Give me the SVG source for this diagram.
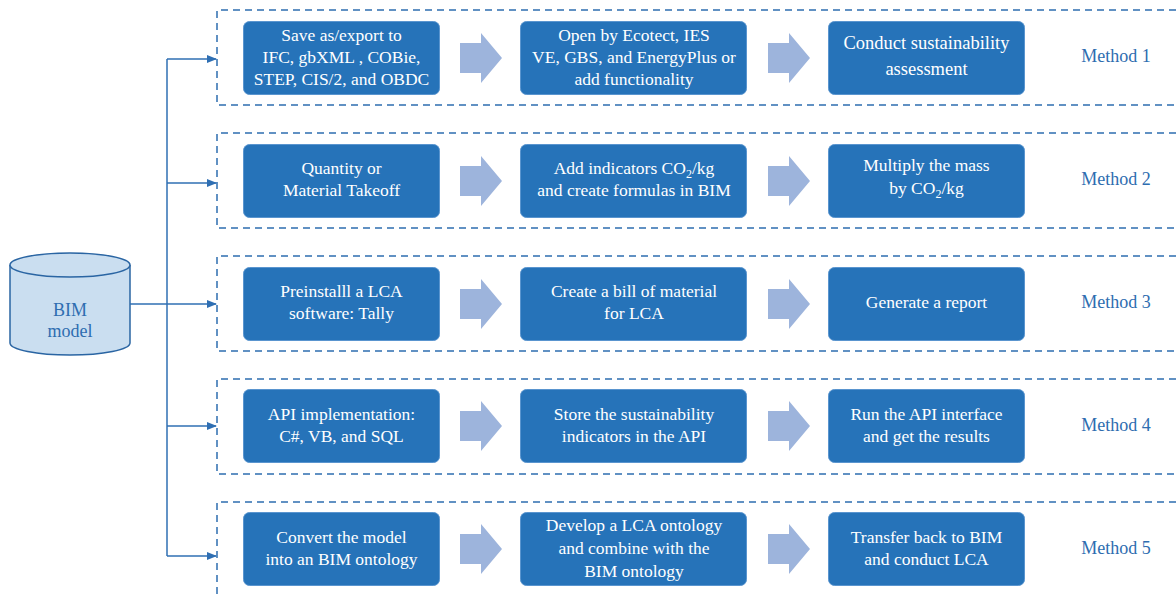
<svg xmlns="http://www.w3.org/2000/svg" width="1176" height="596" viewBox="0 0 1176 596">
<style>
.frame{fill:none;stroke:#2e6db0;stroke-width:1.5;stroke-dasharray:7 5}
.box{fill:#2673b9;stroke:#5a95cf;stroke-width:1}
.bt{font-family:"Liberation Serif",serif;font-size:17.5px;fill:#ffffff;text-anchor:middle}
.big{font-size:18.5px}
.ml{font-family:"Liberation Serif",serif;font-size:18px;fill:#2e6db0;text-anchor:middle}
.blk{fill:#9db4dc}
.con{fill:none;stroke:#2f6fb3;stroke-width:1.5}
.sub{font-size:12px}
</style>
<defs>
<marker id="ah" markerWidth="10" markerHeight="8" refX="9" refY="4" orient="auto" markerUnits="userSpaceOnUse">
<path d="M0,0 L10,4 L0,8 Z" fill="#2f6fb3"/>
</marker>
<path id="barrow" d="M0,-15 L21,-15 L21,-25 L42,0 L21,25 L21,15 L0,15 Z"/>
</defs>

<g id="frames">
<path class="frame" d="M1176,10 L217,10 L217,105 L1176,105"/>
<path class="frame" d="M1176,133 L217,133 L217,228 L1176,228"/>
<path class="frame" d="M1176,256 L217,256 L217,351 L1176,351"/>
<path class="frame" d="M1176,379 L217,379 L217,474 L1176,474"/>
<path class="frame" d="M1176,502 L217,502 L217,596"/>
</g>

<g id="bim">
<path d="M10,265 L10,343 A60,12 0 0 0 130,343 L130,265" fill="#cadef0" stroke="#2a65a3" stroke-width="1.5"/>
<ellipse cx="70" cy="265" rx="60" ry="12" fill="#cadef0" stroke="#2a65a3" stroke-width="1.5"/>
<text class="ml" x="70" y="316">BIM</text>
<text class="ml" x="70" y="337">model</text>
</g>

<g id="connectors">
<path class="con" d="M130,304 L216,304" marker-end="url(#ah)"/>
<path class="con" d="M167,59 L167,556"/>
<path class="con" d="M167,59 L216,59" marker-end="url(#ah)"/>
<path class="con" d="M167,183 L216,183" marker-end="url(#ah)"/>
<path class="con" d="M167,426 L216,426" marker-end="url(#ah)"/>
<path class="con" d="M167,556 L216,556" marker-end="url(#ah)"/>
<g class="blk">
<use href="#barrow" x="460" y="58"/><use href="#barrow" x="768" y="58"/>
<use href="#barrow" x="460" y="181"/><use href="#barrow" x="768" y="181"/>
<use href="#barrow" x="460" y="304"/><use href="#barrow" x="768" y="304"/>
<use href="#barrow" x="460" y="426"/><use href="#barrow" x="768" y="426"/>
<use href="#barrow" x="460" y="549"/><use href="#barrow" x="768" y="549"/>
</g>
</g>

<g id="m1a"><rect class="box" x="243.5" y="21.5" width="196" height="73" rx="6"/>
<text class="bt" x="341.5" y="41">Save as/export to</text>
<text class="bt" x="341.5" y="63">IFC, gbXML , COBie,</text>
<text class="bt" x="341.5" y="85">STEP, CIS/2, and OBDC</text></g>
<g id="m1b"><rect class="box" x="520.5" y="21.5" width="226" height="73" rx="6"/>
<text class="bt" x="634" y="41">Open by Ecotect, IES</text>
<text class="bt" x="634" y="63">VE, GBS, and EnergyPlus or</text>
<text class="bt" x="634" y="85">add functionality</text></g>
<g id="m1c"><rect class="box" x="828.5" y="21.5" width="196" height="73" rx="6"/>
<text class="bt big" x="926.5" y="49">Conduct sustainability</text>
<text class="bt big" x="926.5" y="75">assessment</text></g>
<text id="method1" class="ml" x="1116" y="62">Method 1</text>

<g id="m2a"><rect class="box" x="243.5" y="144.5" width="196" height="73" rx="6"/>
<text class="bt" x="341.5" y="174">Quantity or</text>
<text class="bt" x="341.5" y="196">Material Takeoff</text></g>
<g id="m2b"><rect class="box" x="520.5" y="144.5" width="226" height="73" rx="6"/>
<text class="bt" x="634" y="174">Add indicators CO<tspan class="sub" dy="4">2</tspan><tspan dy="-4">/kg</tspan></text>
<text class="bt" x="634" y="196">and create formulas in BIM</text></g>
<g id="m2c"><rect class="box" x="828.5" y="144.5" width="196" height="73" rx="6"/>
<text class="bt" x="926.5" y="171">Multiply the mass</text>
<text class="bt" x="926.5" y="194">by CO<tspan class="sub" dy="4">2</tspan><tspan dy="-4">/kg</tspan></text></g>
<text id="method2" class="ml" x="1116" y="185">Method 2</text>

<g id="m3a"><rect class="box" x="243.5" y="267.5" width="196" height="73" rx="6"/>
<text class="bt" x="341.5" y="297">Preinstalll a LCA</text>
<text class="bt" x="341.5" y="319">software: Tally</text></g>
<g id="m3b"><rect class="box" x="520.5" y="267.5" width="226" height="73" rx="6"/>
<text class="bt" x="634" y="297">Create a bill of material</text>
<text class="bt" x="634" y="319">for LCA</text></g>
<g id="m3c"><rect class="box" x="828.5" y="267.5" width="196" height="73" rx="6"/>
<text class="bt" x="926.5" y="308">Generate a report</text></g>
<text id="method3" class="ml" x="1116" y="308">Method 3</text>

<g id="m4a"><rect class="box" x="243.5" y="389.5" width="196" height="73" rx="6"/>
<text class="bt" x="341.5" y="420">API implementation:</text>
<text class="bt" x="341.5" y="442">C#, VB, and SQL</text></g>
<g id="m4b"><rect class="box" x="520.5" y="389.5" width="226" height="73" rx="6"/>
<text class="bt" x="634" y="420">Store the sustainability</text>
<text class="bt" x="634" y="442">indicators in the API</text></g>
<g id="m4c"><rect class="box" x="828.5" y="389.5" width="196" height="73" rx="6"/>
<text class="bt" x="926.5" y="420">Run the API interface</text>
<text class="bt" x="926.5" y="442">and get the results</text></g>
<text id="method4" class="ml" x="1116" y="431">Method 4</text>

<g id="m5a"><rect class="box" x="243.5" y="512.5" width="196" height="73" rx="6"/>
<text class="bt" x="341.5" y="543">Convert the model</text>
<text class="bt" x="341.5" y="565">into an BIM ontology</text></g>
<g id="m5b"><rect class="box" x="520.5" y="512.5" width="226" height="73" rx="6"/>
<text class="bt" x="634" y="531">Develop a LCA ontology</text>
<text class="bt" x="634" y="554">and combine with the</text>
<text class="bt" x="634" y="577">BIM ontology</text></g>
<g id="m5c"><rect class="box" x="828.5" y="512.5" width="196" height="73" rx="6"/>
<text class="bt" x="926.5" y="543">Transfer back to BIM</text>
<text class="bt" x="926.5" y="565">and conduct LCA</text></g>
<text id="method5" class="ml" x="1116" y="554">Method 5</text>
</svg>
